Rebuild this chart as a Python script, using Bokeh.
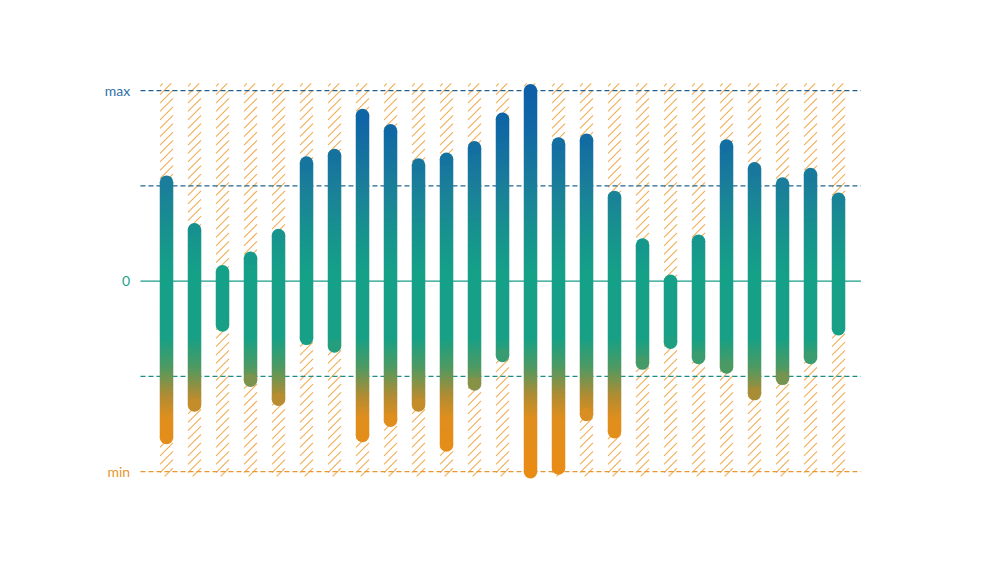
import numpy as np
from bokeh.plotting import figure
from bokeh.models import ColumnDataSource, Range1d
from bokeh.core.properties import value
from bokeh.embed import file_html
from bokeh.resources import INLINE

# ---- data ----
bar_index = list(range(25))
bar_top = [0.52, 0.27, 0.05, 0.12, 0.24, 0.62, 0.66, 0.87, 0.79, 0.61, 0.64, 0.70, 0.85,
           1.00, 0.72, 0.74, 0.44, 0.19, 0.00, 0.21, 0.71, 0.59, 0.51, 0.56, 0.43]
bar_bottom = [-0.82, -0.65, -0.23, -0.52, -0.62, -0.30, -0.34, -0.81, -0.73, -0.65, -0.86, -0.54, -0.39,
              -1.00, -0.98, -0.70, -0.79, -0.43, -0.32, -0.40, -0.45, -0.59, -0.51, -0.40, -0.25]
level_values = [1.0, 0.5, 0.0, -0.5, -1.0]
label_values = [1.0, 0.0, -1.0]
label_texts = ["max", "0", "min"]

# ---- style ----
grad_stops = [(-1.0, "#E98C14"), (-0.72, "#E08E1E"), (-0.6, "#B08C33"), (-0.45, "#4C9A63"),
              (-0.3, "#17A086"), (0.05, "#15A088"), (0.25, "#17938E"), (0.5, "#1A7E9A"),
              (0.8, "#1068A4"), (1.0, "#0D5FA8")]


def hex2rgb(h):
    return np.array([int(h[i:i + 2], 16) for i in (1, 3, 5)], dtype=float)


stop_v = np.array([s[0] for s in grad_stops])
stop_c = np.array([hex2rgb(s[1]) for s in grad_stops])


def rgb_at(v):
    v = np.asarray(v, dtype=float)
    return np.stack([np.interp(v, stop_v, stop_c[:, j]) for j in range(3)], axis=-1)


def hex_at(v):
    r, g, b = rgb_at(v)
    return "#%02x%02x%02x" % (int(round(r)), int(round(g)), int(round(b)))


PX_X = 28.0       # pixels per x unit
PX_Y = 190.5      # pixels per y unit
BAR_W = 13.5      # bar width in px

p = figure(width=984, height=546,
           x_range=Range1d(-5.929, 29.214), y_range=Range1d(-1.3926, 1.4735),
           output_backend="svg", toolbar_location=None, min_border=0,
           x_axis_location=None, y_axis_location=None)
p.grid.visible = False
p.outline_line_color = None
p.background_fill_color = "white"
p.border_fill_color = "white"

# hatched strips behind each bar (45-degree lines drawn as segments)
strip_top, strip_bot = 1.038, -1.025
strip_w_px, spacing_px = 13.0, 8.4
hw = strip_w_px / 2 / PX_X
hx0, hy0, hx1, hy1 = [], [], [], []
rise = strip_w_px / PX_Y
for i in bar_index:
    y = strip_bot - rise
    while y < strip_top:
        ya, yb = y, y + rise
        xa, xb = i - hw, i + hw
        if ya < strip_bot:
            xa = xa + (strip_bot - ya) / rise * 2 * hw
            ya = strip_bot
        if yb > strip_top:
            xb = xb - (yb - strip_top) / rise * 2 * hw
            yb = strip_top
        if yb > ya:
            hx0.append(xa); hy0.append(ya); hx1.append(xb); hy1.append(yb)
        y += spacing_px / PX_Y
p.segment(x0=hx0, y0=hy0, x1=hx1, y1=hy1, line_color="#F0AD55", line_width=1.1)

# guide lines
xs0, xs1 = -0.93, 24.8
line_cols = {1.0: "#22608F", 0.5: "#22648E", 0.0: "#1A9C88", -0.5: "#1B8F86", -1.0: "#EA9632"}
for lv in level_values:
    p.segment(x0=[xs0], y0=[lv], x1=[xs1], y1=[lv], line_color=line_cols[lv],
              line_width=1.3, line_dash=("solid" if lv == 0.0 else "5 3"))

# labels
lab_cols = ["#2C71A8", "#24A08E", "#E8952F"]
p.text(x=[-1.3] * 3, y=label_values, text=label_texts, text_align="right",
       text_baseline="middle", text_font=value("Lato"), text_font_size="14px",
       text_color=lab_cols)

# gradient bars as vertical gradient images, then round caps
imgs, ix, iy, idw, idh = [], [], [], [], []
wd = BAR_W / PX_X
for i, t, b in zip(bar_index, bar_top, bar_bottom):
    n = max(int((t - b) * PX_Y * 2), 2)
    vals = b + (np.arange(n) + 0.5) * (t - b) / n
    rgb = rgb_at(vals)
    arr = np.zeros((n, 1, 4), dtype=np.uint8)
    arr[:, 0, :3] = np.round(rgb).astype(np.uint8)
    arr[:, 0, 3] = 255
    imgs.append(arr.view(dtype=np.uint32).reshape((n, 1)))
    ix.append(i - wd / 2); iy.append(b); idw.append(wd); idh.append(t - b)
p.image_rgba(image=imgs, x=ix, y=iy, dw=idw, dh=idh)

cap_x = bar_index + bar_index
cap_y = bar_top + bar_bottom
cap_c = [hex_at(v) for v in cap_y]
p.scatter(x=cap_x, y=cap_y, size=BAR_W, fill_color=cap_c, line_alpha=0, marker="circle")

open("out.html", "w").write(file_html(p, INLINE))
